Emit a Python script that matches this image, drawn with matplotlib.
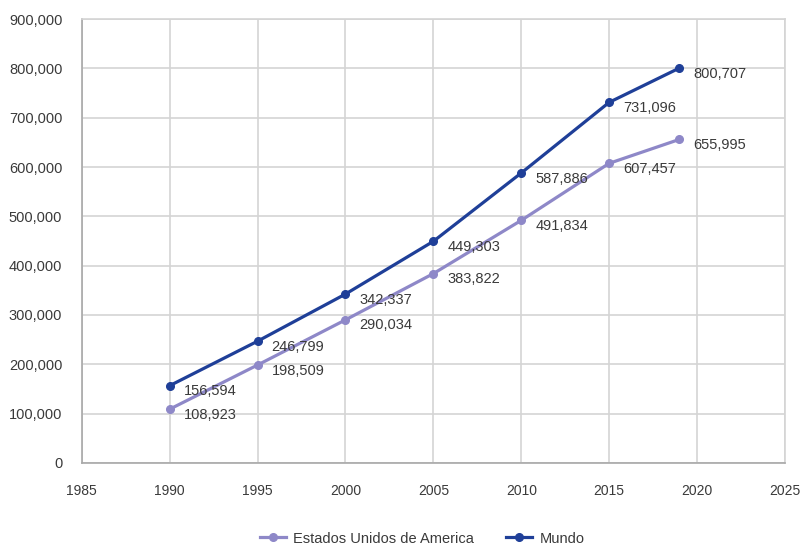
import matplotlib
matplotlib.use("Agg")
import matplotlib.pyplot as plt
from matplotlib.ticker import FuncFormatter, MultipleLocator

years = [1990, 1995, 2000, 2005, 2010, 2015, 2019]
usa = [108923, 198509, 290034, 383822, 491834, 607457, 655995]
mundo = [156594, 246799, 342337, 449303, 587886, 731096, 800707]
series_names = ["Estados Unidos de America", "Mundo"]

plt.rcParams['font.family'] = ['Liberation Sans', 'DejaVu Sans']
txt = '#3a3a3a'

fig = plt.figure(figsize=(8.01, 5.44), dpi=100)
ax = fig.add_axes([0.102, 0.149, 0.878, 0.816])

c_usa = '#8e88c8'
c_mundo = '#1f3f98'
ax.plot(years, usa, color=c_usa, lw=2.3, marker='o', ms=5.5, label=series_names[0], zorder=3)
ax.plot(years, mundo, color=c_mundo, lw=2.3, marker='o', ms=5.5, label=series_names[1], zorder=4)

for x, y in zip(years, usa):
    ax.annotate(f"{y:,}", (x, y), xytext=(10, -4), textcoords='offset points',
                ha='left', va='center', fontsize=10.5, color=txt)
for x, y in zip(years, mundo):
    ax.annotate(f"{y:,}", (x, y), xytext=(10, -4), textcoords='offset points',
                ha='left', va='center', fontsize=10.5, color=txt)

ax.set_xlim(1985, 2025)
ax.set_ylim(0, 900000)
ax.xaxis.set_major_locator(MultipleLocator(5))
ax.yaxis.set_major_locator(MultipleLocator(100000))
ax.yaxis.set_major_formatter(FuncFormatter(lambda v, p: f"{int(v):,}"))
ax.grid(True, color='#d4d4d4', lw=1.2)
ax.set_axisbelow(True)
for s in ax.spines.values():
    s.set_color('#d4d4d4')
    s.set_linewidth(1.2)
ax.spines['bottom'].set_color('#a8a8a8')
ax.spines['left'].set_color('#a8a8a8')
ax.tick_params(length=0, labelsize=10.5, colors=txt)
ax.tick_params(axis='x', pad=15, labelsize=10)
ax.tick_params(axis='y', pad=14)

fig.legend(loc='center', bbox_to_anchor=(0.527, 0.010), ncol=2, frameon=False,
           fontsize=10.5, handlelength=1.8, handletextpad=0.5, columnspacing=2.2,
           labelcolor=txt)

fig.savefig("out.png", dpi=100)
